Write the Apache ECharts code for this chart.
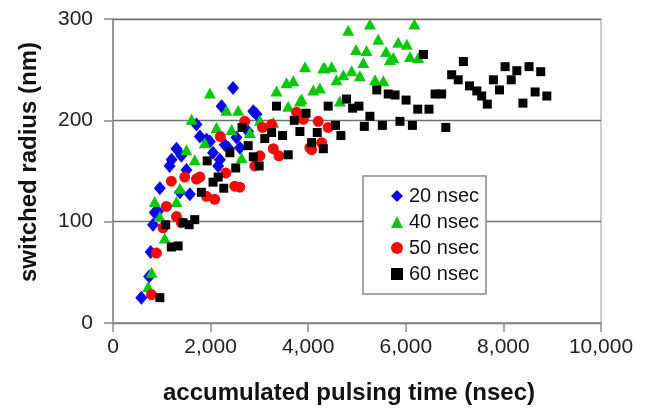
<!DOCTYPE html>
<html>
<head>
<meta charset="utf-8">
<script src="https://cdn.jsdelivr.net/npm/echarts@6/dist/echarts.min.js"></script>
<style>
    html, body { margin: 0; padding: 0; background: #fff; }
    #chart { width: 651px; height: 410px; }
</style>
</head>
<body>
<div id="chart"></div>
<script>
// values
var names = ["20 nsec", "40 nsec", "50 nsec", "60 nsec"];

var x20 = [580, 740, 770, 820, 855, 920, 960, 1160, 1200, 1300, 1370, 1400, 1505, 1575, 1710, 1780, 1915, 1985, 2050, 2155, 2190, 2225, 2290, 2360, 2460, 2530, 2600, 2770, 2875, 2940];
var y20 = [25, 46, 70, 97, 109, 110, 133, 155, 161, 172, 129, 165, 151, 127, 196, 184, 181, 179, 168, 155, 161, 214, 176, 173, 232, 183, 173, 189, 209, 206];

var x40 = [720, 790, 855, 960, 1060, 1300, 1370, 1505, 1610, 1675, 1880, 1985, 2120, 2325, 2430, 2565, 2635, 2805, 3010, 3285, 3350, 3555, 3590, 3695, 3830, 3865, 3935, 4105, 4240, 4310, 4340, 4480, 4580, 4650, 4720, 4820, 4890, 4980, 5060, 5130, 5195, 5265, 5370, 5435, 5540, 5595, 5675, 5745, 5845, 6020, 6085, 6175, 6255];
var y40 = [36, 50, 120, 105, 84, 120, 133, 171, 201, 161, 178, 227, 193, 210, 191, 210, 163, 188, 200, 198, 229, 237, 214, 239, 219, 221, 253, 230, 232, 252, 252, 253, 240, 219, 245, 289, 249, 270, 244, 257, 269, 295, 240, 280, 239, 268, 260, 262, 277, 275, 263, 295, 262];

var x50 = [790, 890, 1025, 1095, 1195, 1300, 1400, 1470, 1710, 1780, 1915, 2085, 2200, 2310, 2495, 2600, 2700, 2905, 3010, 3065, 3250, 3285, 3400, 3760, 3900, 4035, 4070, 4205, 4275, 4410];
var y50 = [28, 69, 94, 115, 140, 105, 99, 144, 142, 144, 125, 122, 184, 148, 135, 134, 199, 155, 165, 193, 196, 172, 165, 208, 201, 173, 171, 199, 178, 193];

var x60 = [960, 1080, 1195, 1335, 1435, 1560, 1675, 1810, 1930, 2050, 2155, 2270, 2395, 2515, 2645, 2770, 2875, 2995, 3110, 3250, 3350, 3475, 3590, 3715, 3830, 3955, 4070, 4185, 4310, 4410, 4560, 4670, 4785, 4910, 5040, 5150, 5265, 5405, 5520, 5640, 5780, 5880, 6005, 6135, 6245, 6360, 6475, 6600, 6735, 6820, 6940, 7075, 7180, 7305, 7455, 7555, 7670, 7795, 7920, 8035, 8160, 8275, 8400, 8525, 8650, 8765, 8890];
var y60 = [25, 97, 75, 76, 99, 97, 102, 129, 160, 139, 144, 133, 168, 153, 193, 175, 164, 155, 182, 188, 214, 185, 166, 200, 189, 207, 178, 188, 172, 214, 195, 185, 221, 212, 214, 194, 204, 230, 195, 226, 225, 199, 220, 195, 211, 265, 211, 226, 226, 193, 245, 240, 258, 234, 229, 224, 216, 240, 230, 253, 240, 249, 217, 253, 228, 248, 224];

var xTicks = [0, 2000, 4000, 6000, 8000, 10000];
var yTicks = [0, 100, 200, 300];

function pairs(xs, ys) {
    var out = [];
    for (var i = 0; i < xs.length; i++) out.push([xs[i], ys[i]]);
    return out;
}

function withComma(v) {
    return String(v).replace(/\B(?=(\d{3})+(?!\d))/g, ",");
}

var font = "'Liberation Sans', Arial, sans-serif";
var axisGray = "#8a8a8a";

var chart = echarts.init(document.getElementById("chart"), null, { renderer: "canvas" });

chart.setOption({
    animation: false,
    backgroundColor: "#fff",
    grid: {
        left: 113, right: 50, top: 19, bottom: 87,
        show: true, borderColor: "#cccccc", borderWidth: 2
    },
    legend: {
        data: names,
        orient: "vertical",
        left: 363, top: 176,
        padding: [10, 7, 10, 28],
        itemGap: 6,
        itemWidth: 12, itemHeight: 12,
        borderColor: "#8a8a8a", borderWidth: 1.5,
        backgroundColor: "#fff",
        textStyle: { fontFamily: font, fontSize: 20, color: "#111", padding: [0, 0, 0, 1] }
    },
    xAxis: {
        type: "value",
        min: xTicks[0], max: xTicks[xTicks.length - 1], interval: 2000,
        name: "accumulated pulsing time (nsec)",
        nameLocation: "middle", nameGap: 58,
        nameTextStyle: { fontFamily: font, fontSize: 24, fontWeight: "bold", color: "#111", padding: [0, 16, 0, 0] },
        axisLine: { show: true, lineStyle: { color: axisGray, width: 1.5 } },
        axisTick: { show: true, length: 9, lineStyle: { color: axisGray, width: 1.5 } },
        axisLabel: { margin: 14, fontFamily: font, fontSize: 21, color: "#222", formatter: withComma },
        splitLine: { show: false }
    },
    yAxis: {
        type: "value",
        min: yTicks[0], max: yTicks[yTicks.length - 1], interval: 100,
        name: "switched radius (nm)",
        nameLocation: "middle", nameGap: 72,
        nameTextStyle: { fontFamily: font, fontSize: 24, fontWeight: "bold", color: "#111", padding: [0, 0, 0, 18] },
        axisLine: { show: true, lineStyle: { color: axisGray, width: 1.5 } },
        axisTick: { show: true, length: 9, lineStyle: { color: axisGray, width: 1.5 } },
        axisLabel: { margin: 20, fontFamily: font, fontSize: 21, color: "#222" },
        splitLine: { show: true, lineStyle: { color: "#707070", width: 1.3 } }
    },
    series: [
        { name: names[0], type: "scatter", symbol: "diamond", symbolSize: [12, 14],
          itemStyle: { color: "#0a0ae6", opacity: 1 }, data: pairs(x20, y20) },
        { name: names[1], type: "scatter", symbol: "triangle", symbolSize: [12, 11],
          itemStyle: { color: "#0cc80c", opacity: 1 }, data: pairs(x40, y40) },
        { name: names[2], type: "scatter", symbol: "circle", symbolSize: 11,
          itemStyle: { color: "#f50a0a", opacity: 1 }, data: pairs(x50, y50) },
        { name: names[3], type: "scatter", symbol: "rect", symbolSize: 9,
          itemStyle: { color: "#000000", opacity: 1 }, data: pairs(x60, y60) }
    ]
});
</script>
</body>
</html>
